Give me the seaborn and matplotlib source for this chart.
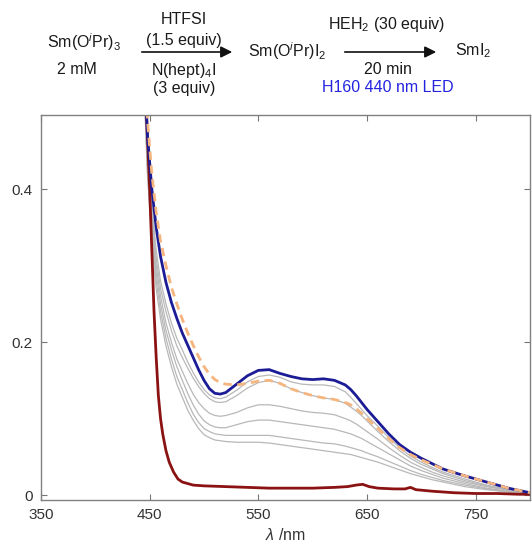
import matplotlib
matplotlib.use("Agg")
import matplotlib.pyplot as plt
import seaborn as sns
from matplotlib.patches import FancyArrowPatch

# ---------------- data ----------------
wl = [440, 445, 448, 452, 456, 460, 465, 470, 475, 480, 485, 490, 495, 500,
      505, 510, 515, 520, 530, 540, 550, 560, 570, 580, 590, 600, 610, 620,
      630, 635, 640, 645, 650, 660, 670, 680, 690, 700, 710, 720, 740, 760,
      780, 800]

blue = [0.80, 0.56, 0.47, 0.40, 0.35, 0.312, 0.278, 0.252, 0.231, 0.212,
        0.196, 0.180, 0.164, 0.150, 0.139, 0.133, 0.132, 0.134, 0.145, 0.156,
        0.163, 0.164, 0.159, 0.155, 0.152, 0.151, 0.152, 0.150, 0.144, 0.138,
        0.130, 0.121, 0.112, 0.096, 0.080, 0.066, 0.056, 0.048, 0.041, 0.034,
        0.025, 0.017, 0.009, 0.003]

orange = [0.82, 0.58, 0.49, 0.42, 0.37, 0.332, 0.300, 0.272, 0.250, 0.230,
          0.212, 0.196, 0.181, 0.168, 0.158, 0.151, 0.147, 0.145, 0.144, 0.146,
          0.149, 0.150, 0.146, 0.139, 0.134, 0.130, 0.127, 0.125, 0.121, 0.118,
          0.113, 0.107, 0.100, 0.087, 0.074, 0.062, 0.053, 0.046, 0.040, 0.034,
          0.025, 0.017, 0.009, 0.003]

gray1 = [0.80, 0.55, 0.45, 0.38, 0.32, 0.28, 0.25, 0.225, 0.205, 0.19, 0.174,
         0.160, 0.148, 0.138, 0.131, 0.127, 0.126, 0.128, 0.137, 0.148, 0.155,
         0.157, 0.154, 0.148, 0.145, 0.144, 0.144, 0.142, 0.135, 0.128, 0.120,
         0.112, 0.104, 0.090, 0.075, 0.062, 0.051, 0.043, 0.036, 0.030, 0.021,
         0.013, 0.007, 0.003]
gray2 = [0.80, 0.55, 0.44, 0.37, 0.31, 0.27, 0.24, 0.215, 0.195, 0.18, 0.166,
         0.153, 0.142, 0.133, 0.126, 0.122, 0.121, 0.122, 0.130, 0.140, 0.147,
         0.150, 0.146, 0.139, 0.134, 0.130, 0.127, 0.125, 0.120, 0.115, 0.110,
         0.104, 0.097, 0.083, 0.070, 0.058, 0.048, 0.040, 0.034, 0.028, 0.019,
         0.012, 0.006, 0.002]
gray3 = [0.80, 0.54, 0.43, 0.36, 0.30, 0.26, 0.225, 0.20, 0.178, 0.162, 0.146,
         0.132, 0.121, 0.113, 0.107, 0.104, 0.103, 0.104, 0.108, 0.114, 0.118,
         0.118, 0.116, 0.113, 0.110, 0.108, 0.107, 0.105, 0.100, 0.097, 0.093,
         0.088, 0.083, 0.073, 0.062, 0.052, 0.043, 0.036, 0.030, 0.025, 0.017,
         0.011, 0.006, 0.002]
gray4 = [0.80, 0.54, 0.43, 0.35, 0.29, 0.25, 0.215, 0.19, 0.168, 0.15, 0.133,
         0.118, 0.106, 0.097, 0.092, 0.089, 0.088, 0.088, 0.092, 0.096, 0.098,
         0.098, 0.096, 0.094, 0.092, 0.090, 0.088, 0.086, 0.082, 0.080, 0.077,
         0.074, 0.070, 0.062, 0.054, 0.046, 0.038, 0.032, 0.027, 0.022, 0.015,
         0.009, 0.005, 0.002]
gray5 = [0.80, 0.53, 0.42, 0.34, 0.28, 0.24, 0.205, 0.178, 0.155, 0.138, 0.121,
         0.106, 0.095, 0.087, 0.083, 0.080, 0.079, 0.078, 0.078, 0.078, 0.078,
         0.078, 0.076, 0.074, 0.072, 0.070, 0.068, 0.067, 0.064, 0.062, 0.060,
         0.058, 0.055, 0.050, 0.044, 0.038, 0.032, 0.027, 0.023, 0.019, 0.013,
         0.008, 0.004, 0.002]
gray6 = [0.80, 0.53, 0.42, 0.33, 0.27, 0.23, 0.195, 0.168, 0.145, 0.128, 0.111,
         0.098, 0.087, 0.079, 0.075, 0.072, 0.071, 0.070, 0.069, 0.069, 0.069,
         0.068, 0.066, 0.064, 0.062, 0.060, 0.058, 0.056, 0.054, 0.053, 0.051,
         0.049, 0.047, 0.043, 0.038, 0.033, 0.028, 0.024, 0.020, 0.017, 0.011,
         0.007, 0.004, 0.002]

red_wl = [440, 445, 447, 450, 452, 454, 456, 458, 460, 462, 465, 468, 472, 476,
          480, 490, 500, 520, 540, 560, 580, 600, 620, 632, 640, 646, 652, 660,
          675, 685, 690, 695, 710, 730, 750, 770, 790, 800]
red = [0.95, 0.62, 0.50, 0.40, 0.32, 0.24, 0.18, 0.13, 0.10, 0.08, 0.058,
       0.043, 0.030, 0.021, 0.017, 0.013, 0.012, 0.011, 0.010, 0.009, 0.009,
       0.009, 0.010, 0.011, 0.013, 0.014, 0.011, 0.009, 0.008, 0.008, 0.010,
       0.007, 0.005, 0.003, 0.002, 0.002, 0.001, 0.001]

xticks = [350, 450, 550, 650, 750]
yticks = [0, 0.2, 0.4]
ytick_labels = ["0", "0.2", "0.4"]

# ---------------- style ----------------
sns.set_theme(style="white")
plt.rcParams['font.family'] = ['Liberation Sans', 'DejaVu Sans']
plt.rcParams['mathtext.fontset'] = 'custom'
plt.rcParams['mathtext.rm'] = 'Liberation Sans'
plt.rcParams['mathtext.it'] = 'Liberation Sans:italic'
plt.rcParams['mathtext.bf'] = 'Liberation Sans:bold'

W, H = 532, 548
fig = plt.figure(figsize=(W / 100, H / 100), dpi=100)
ax = fig.add_axes([41 / W, 1 - 500 / H, (530 - 41) / W, (500 - 115) / H])

gray_col = "#b8b8b8"
for g in [gray6, gray5, gray4, gray3, gray2, gray1]:
    sns.lineplot(x=wl, y=g, ax=ax, color=gray_col, linewidth=0.9)

sns.lineplot(x=red_wl, y=red, ax=ax, color="#8b1212", linewidth=2.0)
sns.lineplot(x=wl, y=blue, ax=ax, color="#1c1c96", linewidth=2.0)
sns.lineplot(x=wl, y=orange, ax=ax, color="#f5b57e", linewidth=2.0)
ax.lines[-1].set_dashes([3, 2])
for ln in ax.lines:
    ln.set_solid_joinstyle('round')

ax.set_xlim(350, 800)
ax.set_ylim(-0.0065, 0.497)
ax.set_xticks(xticks)
ax.set_xticklabels([str(t) for t in xticks])
ax.set_yticks(yticks)
ax.set_yticklabels(ytick_labels)
ax.tick_params(direction='in', length=4, width=0.8, color="#777777",
               labelsize=11, labelcolor="#333333", top=True, right=True,
               bottom=True, left=True, pad=6)
for s in ax.spines.values():
    s.set_visible(True)
    s.set_color("#808080")
    s.set_linewidth(1.0)
ax.set_xlabel(r"$\lambda$ /nm", fontsize=11.5, color="#333333", labelpad=3)
ax.set_ylabel("")

# ---------------- reaction scheme ----------------
def ft(x, y, s, color="#1a1a1a", size=11.5):
    fig.text(x / W, 1 - y / H, s, ha='center', va='center', fontsize=size,
             color=color)

ft(84, 42, r"Sm(O$^{i}$Pr)$_3$")
ft(77, 69, "2 mM")
ft(184, 20, "HTFSI")
ft(184, 40, "(1.5 equiv)")
ft(184, 70, r"N(hept)$_4$I")
ft(184, 89, "(3 equiv)")
ft(287, 51, r"Sm(O$^{i}$Pr)I$_2$")
ft(387, 24, r"HEH$_2$ (30 equiv)")
ft(388, 70, "20 min")
ft(388, 88, "H160 440 nm LED", color="#2424e0")
ft(473, 51, r"SmI$_2$")

for x0, x1 in [(139, 235), (342, 439)]:
    arr = FancyArrowPatch((x0 / W, 1 - 52 / H), (x1 / W, 1 - 52 / H),
                          transform=fig.transFigure, arrowstyle='-|>',
                          mutation_scale=17, color="#111111", linewidth=1.2)
    fig.add_artist(arr)

fig.savefig("out.png", dpi=100)
